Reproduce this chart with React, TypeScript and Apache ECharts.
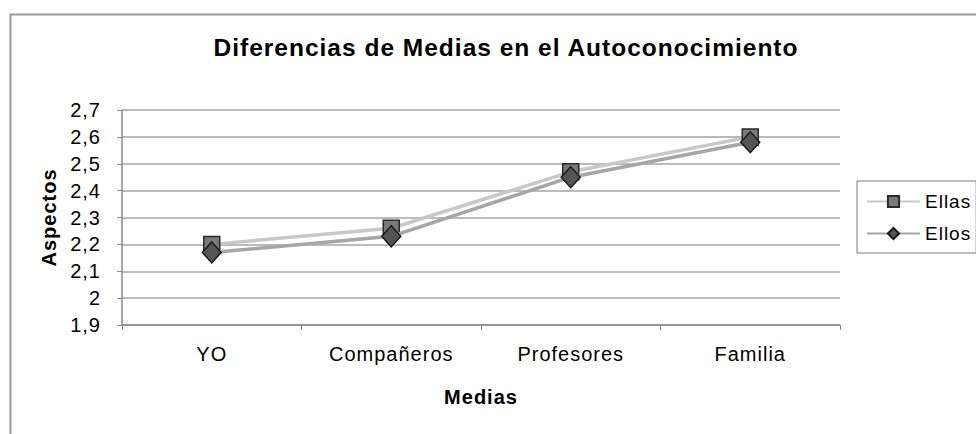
import React, { useEffect, useRef } from "react";
import * as echarts from "echarts";

const categories = ["YO", "Compañeros", "Profesores", "Familia"];
const ellas = [2.2, 2.26, 2.47, 2.6];
const ellos = [2.17, 2.23, 2.45, 2.58];
const yMin = 1.9;
const yMax = 2.7;
const yStep = 0.1;

const FONT = "'Liberation Sans', Arial, sans-serif";

const fmtComma = (v: number) => String(Math.round(v * 10) / 10).replace(".", ",");

export default function App() {
  const ref = useRef<HTMLDivElement>(null);

  useEffect(() => {
    if (!ref.current) return;
    const chart = echarts.init(ref.current, null, { renderer: "svg" });
    chart.setOption({
      animation: false,
      backgroundColor: "#ffffff",
      textStyle: { fontFamily: FONT, color: "#000" },
      graphic: [
        {
          type: "rect",
          left: 8,
          top: 12,
          shape: { width: 1000, height: 500 },
          style: { fill: "none", stroke: "#9a9a9a", lineWidth: 2 },
          silent: true,
          z: -1,
        },
      ],
      title: {
        text: "Diferencias de Medias en el Autoconocimiento",
        left: 501,
        top: 30,
        textAlign: "center",
        textStyle: { fontFamily: FONT, fontWeight: "bold", fontSize: 24.5, color: "#000" },
      },
      legend: {
        orient: "vertical",
        left: 857,
        top: 181,
        padding: [11, 10, 10, 9],
        itemWidth: 53,
        itemHeight: 14,
        itemGap: 13,
        borderColor: "#7a7a7a",
        borderWidth: 1,
        backgroundColor: "#fff",
        textStyle: { fontFamily: FONT, fontSize: 19, color: "#000" },
        data: ["Ellas", "Ellos"],
      },
      grid: { left: 122, right: 136, top: 110, bottom: 109, containLabel: false },
      xAxis: {
        type: "category",
        data: categories,
        boundaryGap: true,
        name: "Medias",
        nameLocation: "middle",
        nameGap: 62,
        nameTextStyle: { fontFamily: FONT, fontWeight: "bold", fontSize: 20, color: "#000" },
        axisLine: { lineStyle: { color: "#8a8a8a", width: 1.5 } },
        axisTick: { show: true, length: 5, lineStyle: { color: "#8a8a8a" } },
        axisLabel: { fontFamily: FONT, fontSize: 20, color: "#000", margin: 19 },
      },
      yAxis: {
        type: "value",
        min: yMin,
        max: yMax,
        interval: yStep,
        name: "Aspectos",
        nameLocation: "middle",
        nameGap: 63,
        nameRotate: 90,
        nameTextStyle: { fontFamily: FONT, fontWeight: "bold", fontSize: 20, color: "#000" },
        axisLine: { show: true, lineStyle: { color: "#8a8a8a", width: 1.5 } },
        axisTick: { show: true, length: 5, lineStyle: { color: "#8a8a8a" } },
        axisLabel: {
          fontFamily: FONT,
          fontSize: 20,
          color: "#000",
          margin: 21,
          formatter: (v: number) => fmtComma(v),
        },
        splitLine: { show: true, lineStyle: { color: "#a5a5a5", width: 1.5 } },
      },
      series: [
        {
          name: "Ellas",
          type: "line",
          data: ellas,
          symbol: "rect",
          symbolSize: 16,
          lineStyle: { color: "#c8c8c8", width: 3.5 },
          itemStyle: { color: "#7a7a7a", borderColor: "#2a2a2a", borderWidth: 1.5 },
          z: 2,
        },
        {
          name: "Ellos",
          type: "line",
          data: ellos,
          symbol: "diamond",
          symbolSize: [19, 21],
          lineStyle: { color: "#a6a6a6", width: 3.5 },
          itemStyle: { color: "#555555", borderColor: "#1a1a1a", borderWidth: 1.5 },
          z: 3,
        },
      ],
    });
    return () => chart.dispose();
  }, []);

  return (
    <div
      ref={ref}
      style={{
        position: "absolute",
        left: 0,
        top: 0,
        width: 976,
        height: 434,
        letterSpacing: "1px",
      }}
    />
  );
}
